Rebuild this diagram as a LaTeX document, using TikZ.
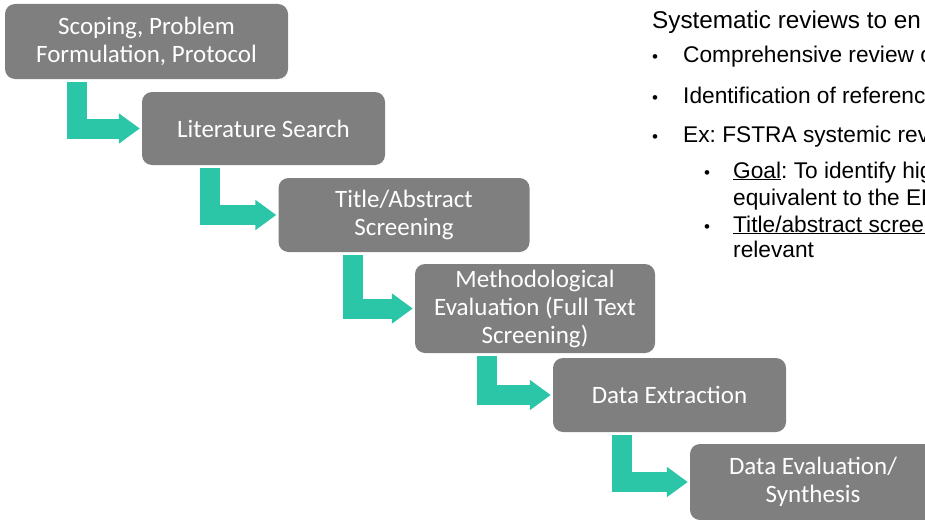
\documentclass[tikz,border=0pt]{standalone}
\usepackage{fontspec}
\setmainfont{Carlito}
\newfontfamily\arialfont{Liberation Sans}
\usetikzlibrary{arrows.meta}
\definecolor{stepgray}{HTML}{7F7F7F}
\definecolor{flowteal}{HTML}{2BC5A7}
\frenchspacing
\newcommand{\notebullet}[1]{\makebox[#1][l]{\fontsize{17}{17}\selectfont\textbullet}}

\begin{document}
\begin{tikzpicture}[x=1pt,y=-1pt,
  stage/.style={fill=stepgray,rounded corners=10pt,text=white,align=center,
    font=\fontsize{25}{28}\selectfont,inner sep=0pt},
  flow/.style={draw=flowteal,line width=20pt,line join=miter,shorten >=2pt,
    -{Triangle[length=21pt,width=29pt]}},
  txt/.style={anchor=base west,inner sep=0pt,font=\arialfont\fontsize{22.7}{27}\selectfont}]
  \clip (0,0) rectangle (925,519);
  % steps
  \node[stage,minimum width=283pt,minimum height=75pt] (scope) at (146.5,41.5) {Scoping, Problem\\Formulation, Protocol};
  \node[stage,minimum width=243pt,minimum height=73pt] (search) at (263.5,128.5) {Literature Search};
  \node[stage,minimum width=251pt,minimum height=74pt] (screen) at (404,215) {Title/Abstract\\Screening};
  \node[stage,minimum width=240pt,minimum height=89pt] (method) at (535,308.5) {Methodological\\Evaluation (Full Text\\Screening)};
  \node[stage,minimum width=233pt,minimum height=74pt] (extract) at (669.5,395) {Data Extraction};
  \node[stage,minimum width=246pt,minimum height=76pt] (synth) at (813,482) {Data Evaluation/\\Synthesis};
  % bent arrows
  \draw[flow] ([xshift=72pt,yshift=-3pt]scope.south west) |- (search.west);
  \draw[flow] ([xshift=68pt,yshift=-3pt]search.south west) |- (screen.west);
  \draw[flow] ([xshift=75pt,yshift=-3pt]screen.south west) |- (method.west);
  \draw[flow] ([xshift=72pt,yshift=-3pt]method.south west) |- (extract.west);
  \draw[flow] ([xshift=69pt,yshift=-3pt]extract.south west) |- (synth.west);
  % notes
  \node[txt,font=\arialfont\fontsize{24.3}{28}\selectfont] (title) at (652,29) {Systematic reviews to en};
  \node[txt] (b1) at (652,63) {\notebullet{31pt}Comprehensive review of};
  \node[txt] (b2) at (652,103) {\notebullet{31pt}Identification of reference};
  \node[txt] (b3) at (652,142) {\notebullet{31pt}Ex: FSTRA systemic rev};
  \node[txt] (b31) at (704,178) {\notebullet{29pt}\underline{Goal}: To identify hig};
  \node[txt] (b31b) at (733,205) {equivalent to the ED};
  \node[txt] (b32) at (704,232) {\notebullet{29pt}\underline{Title/abstract screen}};
  \node[txt] (b32b) at (733,257) {relevant};
\end{tikzpicture}
\end{document}
